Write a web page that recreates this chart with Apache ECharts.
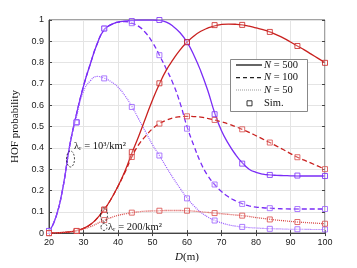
<!DOCTYPE html>
<html><head><meta charset="utf-8">
<script src="https://cdn.jsdelivr.net/npm/echarts@6/dist/echarts.min.js"></script>
<style>html,body{margin:0;padding:0;background:#fff}#c{width:357px;height:268px}</style>
</head><body><div id="c"></div>
<script>
// D values (m) for the analytic curves
const D = [20,22,24,26,28,30,32,34,36,38,40,42,44,46,48,50,52,54,56,58,60,62,64,66,68,70,72,74,76,78,80,82,84,86,88,90,92,94,96,98,100];
// lambda_r = 10^3/km^2 (blue)
const blue500 = [0.005,0.075,0.21,0.41,0.56,0.69,0.795,0.89,0.955,0.978,0.99,0.995,0.998,1.0,1.0,1.0,0.998,0.99,0.97,0.94,0.896,0.835,0.76,0.67,0.565,0.48,0.42,0.37,0.33,0.30,0.285,0.277,0.273,0.271,0.27,0.269,0.268,0.268,0.268,0.268,0.268];
const blue100 = [0.005,0.075,0.21,0.41,0.56,0.69,0.795,0.89,0.955,0.978,0.99,0.993,0.985,0.97,0.94,0.895,0.835,0.77,0.70,0.61,0.50,0.41,0.33,0.27,0.228,0.195,0.17,0.152,0.138,0.128,0.122,0.119,0.117,0.115,0.114,0.113,0.113,0.113,0.113,0.113,0.113];
const blue50 = [0.005,0.075,0.21,0.41,0.55,0.665,0.715,0.735,0.727,0.71,0.685,0.645,0.595,0.535,0.475,0.415,0.364,0.31,0.258,0.21,0.165,0.128,0.098,0.076,0.06,0.048,0.039,0.033,0.029,0.026,0.024,0.022,0.021,0.02,0.019,0.018,0.018,0.018,0.017,0.017,0.017];
// lambda_r = 200/km^2 (red)
const red500 = [0,0.001,0.003,0.006,0.012,0.022,0.04,0.07,0.11,0.16,0.22,0.29,0.375,0.455,0.54,0.625,0.70,0.765,0.815,0.86,0.896,0.925,0.947,0.962,0.973,0.979,0.981,0.98,0.977,0.971,0.963,0.955,0.944,0.93,0.915,0.897,0.878,0.86,0.84,0.82,0.80];
const red100 = [0,0.001,0.003,0.006,0.012,0.022,0.04,0.07,0.11,0.16,0.22,0.285,0.357,0.415,0.455,0.49,0.514,0.53,0.541,0.546,0.548,0.547,0.544,0.538,0.531,0.522,0.512,0.50,0.487,0.473,0.457,0.441,0.425,0.408,0.391,0.373,0.356,0.342,0.328,0.314,0.30];
const red50 = [0,0.001,0.003,0.006,0.011,0.019,0.03,0.045,0.061,0.073,0.083,0.09,0.096,0.10,0.103,0.104,0.105,0.106,0.106,0.106,0.105,0.103,0.10,0.097,0.094,0.091,0.088,0.085,0.082,0.078,0.073,0.069,0.065,0.061,0.058,0.055,0.052,0.05,0.048,0.046,0.044];
// Simulation points
const Dsim = [20,28,36,44,52,60,68,76,84,92,100];
const simBlue500 = [0.01,0.52,0.96,0.995,1.0,0.896,0.558,0.326,0.273,0.27,0.268];
const simBlue100 = [0.01,0.52,0.96,0.985,0.835,0.49,0.228,0.137,0.117,0.113,0.113];
const simBlue50 = [0.01,0.52,0.726,0.592,0.364,0.163,0.059,0.029,0.02,0.018,0.017];
const simRed500 = [0,0.01,0.11,0.38,0.703,0.896,0.976,0.977,0.944,0.878,0.799];
const simRed100 = [0,0.01,0.11,0.357,0.514,0.548,0.531,0.487,0.425,0.356,0.30];
const simRed50 = [0,0.01,0.061,0.096,0.105,0.105,0.094,0.082,0.064,0.052,0.044];
const legendNames = ['N = 500','N = 100','N = 50','Sim.'];

const BLUE = '#7a2cf6', BLUE_L = '#9a5cff', RED = '#c9211f', RED_L = '#d84a48';
const pairs = (xs, ys) => xs.map((x,i)=>[x, ys[i]]);
function line(name, ys, color, type, w){
  return {type:'line', name:name, data:pairs(D, ys), smooth:true, showSymbol:false, symbol:'none',
    lineStyle:{color:color, width:w, type:type}, itemStyle:{color:color}, z:3, silent:true};
}
function sim(ys, color){
  return {type:'scatter', name:'simpts', data:pairs(Dsim, ys), symbol:'rect', symbolSize:5,
    itemStyle:{color:'rgba(255,255,255,0.3)', borderColor:color, borderWidth:1}, z:4, silent:true};
}
const chart = echarts.init(document.getElementById('c'), null, {renderer:'canvas'});
const serif = 'Liberation Serif, DejaVu Serif, serif';
const font = '10.5px ' + serif;
const rich = {i:{fontStyle:'italic', fontSize:10.5, fontFamily:serif, fill:'#111'}};
// legend drawn as graphic (box at 230..307, 59..111)
const LX = 230, LY = 59, rows = [65, 77.7, 90, 103.3];
const legendItems = [
  {type:'rect', shape:{x:LX+0.5, y:LY+0.5, width:77, height:52}, style:{fill:'#fff', stroke:'#888', lineWidth:1}, z:20},
  {type:'line', shape:{x1:236, y1:rows[0], x2:262, y2:rows[0]}, style:{stroke:'#666', lineWidth:2}, z:21},
  {type:'line', shape:{x1:236, y1:rows[1], x2:262, y2:rows[1]}, style:{stroke:'#222', lineWidth:1.2, lineDash:[4,3]}, z:21},
  {type:'line', shape:{x1:236, y1:rows[2], x2:262, y2:rows[2]}, style:{stroke:'#999', lineWidth:1, lineDash:[1,1]}, z:21},
  {type:'rect', shape:{x:247, y:rows[3]-2.5, width:5, height:5}, style:{fill:'#fff', stroke:'#333', lineWidth:1}, z:21}
];
legendNames.forEach((n,i)=>{
  legendItems.push({type:'text', x:264, y:rows[i], z:21,
    style:{text: n.startsWith('N') ? '{i|N}' + n.slice(1) : n, rich:rich, font:font, fill:'#111', verticalAlign:'middle'}});
});
chart.setOption({
  animation:false,
  grid:{left:49, right:32, top:20, bottom:29, show:true, borderColor:'#444', borderWidth:1},
  xAxis:[{type:'value', min:20, max:100, interval:10,
    axisLine:{show:true,lineStyle:{color:'#444'}}, axisTick:{inside:true,length:3,lineStyle:{color:'#444'}},
    axisLabel:{fontSize:9, color:'#222', fontFamily:'Liberation Sans, Arial, sans-serif', margin:5},
    splitLine:{show:true, lineStyle:{color:'#e4e4e4'}},
    name:'{i|D}(m)', nameLocation:'middle', nameGap:17,
    nameTextStyle:{fontSize:11, color:'#111', fontFamily:serif, rich:{i:{fontStyle:'italic', fontSize:11, fontFamily:serif, color:'#111'}}}},
    {type:'value', position:'top', min:20, max:100, interval:10, axisLine:{show:false},
     axisTick:{inside:true,length:3,lineStyle:{color:'#444'}}, axisLabel:{show:false}, splitLine:{show:false}}],
  yAxis:[{type:'value', min:0, max:1, interval:0.1,
    axisLine:{show:true,lineStyle:{color:'#444'}}, axisTick:{inside:true,length:3,lineStyle:{color:'#444'}},
    axisLabel:{fontSize:9, color:'#222', fontFamily:'Liberation Sans, Arial, sans-serif', margin:5},
    splitLine:{show:true, lineStyle:{color:'#e4e4e4'}},
    name:'HOF probability', nameLocation:'middle', nameGap:27,
    nameTextStyle:{fontSize:11, color:'#111', fontFamily:serif}},
    {type:'value', position:'right', min:0, max:1, interval:0.1, axisLine:{show:false},
     axisTick:{inside:true,length:3,lineStyle:{color:'#444'}}, axisLabel:{show:false}, splitLine:{show:false}}],
  series:[
    line('b500', blue500, BLUE, 'solid', 1.3),
    line('b100', blue100, BLUE, [5,3], 1.3),
    line('b50', blue50, BLUE_L, [1,1], 1.2),
    line('r500', red500, RED, 'solid', 1.3),
    line('r100', red100, RED, [5,3], 1.3),
    line('r50', red50, RED_L, [1,1], 1.3),
    sim(simBlue500, BLUE), sim(simBlue100, BLUE_L), sim(simBlue50, BLUE_L),
    sim(simRed500, RED), sim(simRed100, RED_L), sim(simRed50, RED_L)
  ],
  graphic:[
    {type:'ellipse', shape:{cx:70.5, cy:159, rx:4, ry:8}, style:{fill:'none', stroke:'#222', lineWidth:0.8, lineDash:[2,1.5]}, z:10},
    {type:'ellipse', shape:{cx:104, cy:215, rx:3.5, ry:7}, style:{fill:'none', stroke:'#222', lineWidth:0.8, lineDash:[2,1.5]}, z:10},
    {type:'ellipse', shape:{cx:104, cy:227, rx:3, ry:3.5}, style:{fill:'none', stroke:'#222', lineWidth:0.8, lineDash:[2,1.5]}, z:10},
    {type:'text', left:74, top:141, z:10, style:{text:'λᵣ = 10³/km²', font:font, fill:'#111'}},
    {type:'text', left:108, top:222, z:10, style:{text:'λᵣ = 200/km²', font:font, fill:'#111'}}
  ].concat(legendItems)
});
</script></body></html>
